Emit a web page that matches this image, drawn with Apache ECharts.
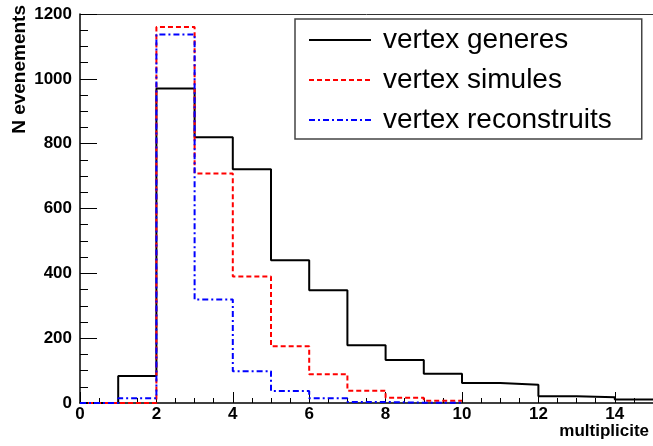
<!DOCTYPE html>
<html>
<head>
<meta charset="utf-8">
<script src="https://cdn.jsdelivr.net/npm/echarts@6/dist/echarts.min.js"></script>
<style>
  html, body { margin: 0; padding: 0; background: #fff; }
  #main { width: 653px; height: 446px; }
</style>
</head>
<body>
<div id="main"></div>
<script>
// bin left edges (multiplicite), bins of width 1
var binEdges = [0, 1, 2, 3, 4, 5, 6, 7, 8, 9, 10, 11, 12, 13, 14, 15]
var generes = [0, 83, 970, 820, 721, 440, 348, 178, 133, 90, 62, 56, 21, 18, 11]
// these two only cover 0..10
var simules = [0, 0, 1160, 708, 390, 175, 89, 38, 16, 7]
var reconstruits = [0, 15, 1137, 319, 98, 37, 15, 3, 1, 1]
var seriesNames = ['vertex generes', 'vertex simules', 'vertex reconstruits']

// histogram as step line: point at each left edge, plus closing point at the last right edge
function histPoints(vals) {
    var pts = []
    for (var i = 0; i < vals.length; i++) {
        pts.push([binEdges[i], vals[i]])
    }
    pts.push([binEdges[vals.length], vals[vals.length - 1]])
    return pts
}

var font = '"Liberation Sans", Arial, Helvetica, sans-serif'

var option = {
    backgroundColor: '#fff',
    animation: false,
    grid: {
        left: 80,
        right: 0,
        top: 14,
        bottom: 43
    },
    legend: {
        orient: 'vertical',
        left: 295,
        top: 19,
        padding: [6, 30, 4, 13],
        itemWidth: 62,
        itemHeight: 14,
        itemGap: 10,
        borderColor: '#444',
        borderWidth: 1.5,
        backgroundColor: '#fff',
        itemStyle: { opacity: 0 },
        textStyle: {
            fontFamily: font,
            fontSize: 28,
            color: '#000',
            lineHeight: 30,
            padding: [0, 0, 0, 7]
        },
        data: seriesNames
    },
    xAxis: [
        {
            type: 'value',
            min: 0,
            max: 15,
            interval: 2,
            axisLine: { lineStyle: { color: '#000', width: 1.5 } },
            axisTick: { inside: true, length: 11, lineStyle: { color: '#000' } },
            minorTick: { show: true, splitNumber: 4, length: 5, lineStyle: { color: '#000' } },
            splitLine: { show: false },
            axisLabel: {
                showMaxLabel: false,
                margin: 3,
                fontFamily: font,
                fontWeight: 'bold',
                fontSize: 17,
                color: '#000'
            }
        },
        {
            // top frame line only
            type: 'value',
            position: 'top',
            min: 0,
            max: 15,
            axisLine: { show: true, lineStyle: { color: '#333', width: 1 } },
            axisTick: { show: false },
            axisLabel: { show: false },
            splitLine: { show: false }
        }
    ],
    yAxis: {
        type: 'value',
        min: 0,
        max: 1200,
        interval: 200,
        axisLine: { show: true, lineStyle: { color: '#000', width: 1.5 } },
        axisTick: { show: true, inside: true, length: 17, lineStyle: { color: '#000' } },
        minorTick: { show: true, splitNumber: 4, length: 8, lineStyle: { color: '#000' } },
        splitLine: { show: false },
        axisLabel: {
            margin: 8,
            formatter: function (v) { return String(v) },
            fontFamily: font,
            fontWeight: 'bold',
            fontSize: 17,
            color: '#000'
        }
    },
    graphic: [
        {
            type: 'text',
            x: 20,
            y: 5,
            rotation: Math.PI / 2,
            style: {
                text: 'N evenements',
                align: 'right',
                verticalAlign: 'middle',
                font: 'bold 19px ' + font,
                fill: '#000'
            }
        },
        {
            type: 'text',
            right: 4,
            top: 423,
            style: {
                text: 'multiplicite',
                font: 'bold 17px ' + font,
                fill: '#000'
            }
        }
    ],
    series: [
        {
            name: seriesNames[0],
            type: 'line',
            step: 'end',
            symbol: 'none',
            color: '#000',
            lineStyle: { color: '#000', width: 2, type: 'solid' },
            data: histPoints(generes)
        },
        {
            name: seriesNames[1],
            type: 'line',
            step: 'end',
            symbol: 'none',
            color: '#ff0000',
            lineStyle: { color: '#ff0000', width: 2, type: [5, 3] },
            data: histPoints(simules)
        },
        {
            name: seriesNames[2],
            type: 'line',
            step: 'end',
            symbol: 'none',
            color: '#0000ff',
            lineStyle: { color: '#0000ff', width: 2, type: [6, 3, 2, 3] },
            data: histPoints(reconstruits)
        }
    ]
}

var myChart = echarts.init(document.getElementById('main'))
myChart.setOption(option)
</script>
</body>
</html>
